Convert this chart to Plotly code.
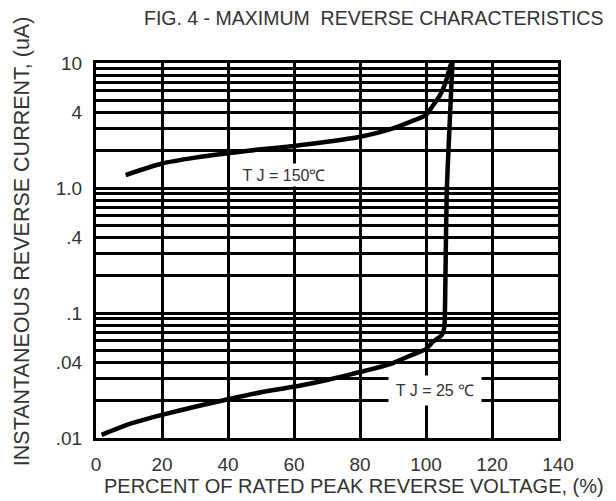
import plotly.graph_objects as go

# Tj = 150 C curve
x150 = [9, 20, 30, 40, 50, 60, 70, 80, 90, 95, 100, 102, 104.2, 106, 107.3, 107.8]
y150 = [1.27, 1.57, 1.75, 1.90, 2.04, 2.17, 2.34, 2.57, 3.0, 3.37, 3.84, 4.53, 5.5, 7.05, 9.4, 10]

# Tj = 25 C curve (incl. breakdown rise)
x25 = [1.7, 10, 20, 30, 40, 50, 62, 70, 80, 86, 90, 95, 100, 102.1, 104.5, 105.3, 105.6,
       105.8, 106.0, 106.3, 106.8, 107.4, 108.0]
y25 = [0.0106, 0.0129, 0.0153, 0.0178, 0.0204, 0.0232, 0.0263, 0.0291, 0.0337, 0.0370,
       0.0398, 0.0453, 0.0515, 0.059, 0.0655, 0.0718, 0.080,
       0.127, 0.32, 0.96, 2.0, 4.5, 10]

y_tickvals = [0.01, 0.04, 0.1, 0.4, 1, 4, 10]
y_ticktext = [".01", ".04", ".1", ".4", "1.0", "4", "10"]
y_minor = [0.02, 0.03, 0.05, 0.06, 0.07, 0.08, 0.09,
           0.2, 0.3, 0.5, 0.6, 0.7, 0.8, 0.9,
           2, 3, 5, 6, 7, 8, 9]
x_tickvals = [0, 20, 40, 60, 80, 100, 120, 140]

FONT = "Liberation Sans, Arial, sans-serif"
TXT = "#333333"

fig = go.Figure()
fig.add_trace(go.Scatter(x=x150, y=y150, mode="lines",
                         line=dict(color="black", width=4.5, shape="spline", smoothing=0.7),
                         showlegend=False, hoverinfo="skip"))
fig.add_trace(go.Scatter(x=x25, y=y25, mode="lines",
                         line=dict(color="black", width=4.5, shape="spline", smoothing=0.5),
                         showlegend=False, hoverinfo="skip"))

# page body has an 8px margin, so the figure is sized/offset to compensate
fig.update_layout(
    width=608, height=493,
    margin=dict(l=88, r=58, t=55, b=63),
    paper_bgcolor="white", plot_bgcolor="white",
    font=dict(family=FONT, color=TXT, size=19),
    xaxis=dict(range=[0, 140], tickvals=x_tickvals, showgrid=True, gridcolor="black",
               gridwidth=2.5, zeroline=False, showline=True, linecolor="black", linewidth=3,
               mirror=True, ticks="", ticklabelstandoff=7,
               tickfont=dict(size=19, color=TXT, family=FONT)),
    yaxis=dict(type="log", range=[-2, 1], tickvals=y_tickvals, ticktext=y_ticktext,
               showgrid=True, gridcolor="black", gridwidth=2.5, zeroline=False,
               showline=True, linecolor="black", linewidth=3, mirror=True, ticks="",
               ticklabelstandoff=7,
               tickfont=dict(size=19, color=TXT, family=FONT),
               minor=dict(tickvals=y_minor, showgrid=True, gridcolor="black", gridwidth=2.5,
                          ticks="")),
)

annotations = [
    dict(text="FIG. 4 - MAXIMUM\u00a0\u00a0REVERSE CHARACTERISTICS", xref="paper", yref="paper",
         x=1.1017, y=1.1213, xanchor="right", yanchor="middle", showarrow=False,
         font=dict(size=19.5, color=TXT, family=FONT)),
    dict(text="PERCENT OF RATED PEAK REVERSE VOLTAGE, (%)", xref="paper", yref="paper",
         x=0.559, y=-0.1293, xanchor="center", yanchor="middle", showarrow=False,
         font=dict(size=20, color=TXT, family=FONT)),
    dict(text="INSTANTANEOUS REVERSE CURRENT, (uA)", xref="paper", yref="paper",
         x=-0.160, y=0.525, xanchor="center", yanchor="middle", showarrow=False,
         textangle=-90, font=dict(size=21.5, color=TXT, family=FONT)),
    dict(text="T J = 150\u2103", xref="x", yref="y", x=57, y=0.104,
         xanchor="center", yanchor="middle", showarrow=False, bgcolor="white",
         width=96, height=20, font=dict(size=16, color=TXT, family=FONT)),
    dict(text="T J = 25 \u2103", xref="x", yref="y", x=102.7, y=-1.616,
         xanchor="center", yanchor="middle", showarrow=False, bgcolor="white",
         width=90, height=27, font=dict(size=16, color=TXT, family=FONT)),
]
fig.update_layout(annotations=annotations)

fig.write_html("out.html")
